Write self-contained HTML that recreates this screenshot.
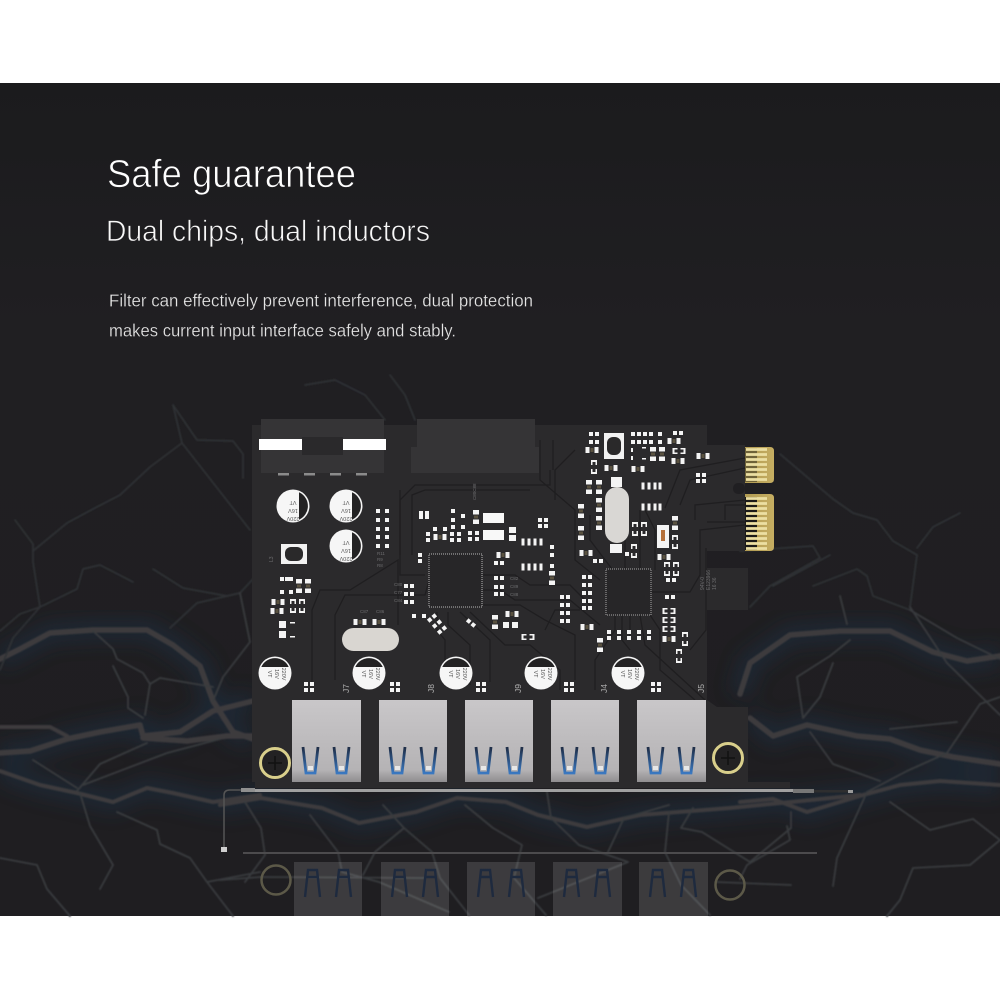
<!DOCTYPE html>
<html lang="en"><head><meta charset="utf-8"><title>Safe guarantee</title>
<style>html,body{margin:0;padding:0;background:#fff}svg{display:block}text{font-family:"Liberation Sans",sans-serif}</style></head>
<body>
<svg xmlns="http://www.w3.org/2000/svg" width="1000" height="1000" viewBox="0 0 1000 1000">
<defs>
<linearGradient id="bg" x1="0" y1="0" x2="0" y2="1"><stop offset="0" stop-color="#1b1b1d"/><stop offset=".3" stop-color="#201f22"/><stop offset="1" stop-color="#1f1e21"/></linearGradient>
<linearGradient id="usb" x1="0" y1="0" x2="0" y2="1"><stop offset="0" stop-color="#c9c7c9"/><stop offset=".85" stop-color="#b5b3b5"/><stop offset="1" stop-color="#8f8d8f"/></linearGradient>
<linearGradient id="gold" x1="0" y1="0" x2="1" y2="0"><stop offset="0" stop-color="#b09a52"/><stop offset="1" stop-color="#c6ae62"/></linearGradient>
<linearGradient id="tab" x1="0" y1="0" x2="0" y2="1"><stop offset="0" stop-color="#1e2c44"/><stop offset="1" stop-color="#3a78c0"/></linearGradient>
<filter id="b6" x="-10%" y="-10%" width="120%" height="120%"><feGaussianBlur stdDeviation="9"/></filter>
<filter id="b1" x="-5%" y="-5%" width="110%" height="110%"><feGaussianBlur stdDeviation=".9"/></filter>
<rect id="s" x="-2" y="-2" width="4" height="4" fill="#f4f4f4"/>
<g id="d"><rect x="-5" y="-2" width="4" height="4" fill="#f4f4f4"/><rect x="1" y="-2" width="4" height="4" fill="#f4f4f4"/></g>
<g id="dv"><rect x="-2" y="-5" width="4" height="4" fill="#f4f4f4"/><rect x="-2" y="1" width="4" height="4" fill="#f4f4f4"/></g>
<g id="h"><rect x="-6.500" y="-3" width="13" height="6" fill="#f4f4f4"/><rect x="-2.500" y="-3" width="5" height="6" fill="#2b2a2b"/><rect x="-1.500" y="-2" width="3" height="4" fill="#5a5240"/></g>
<g id="v"><rect x="-3" y="-7" width="6" height="14" fill="#f4f4f4"/><rect x="-3" y="-2.500" width="6" height="5" fill="#2b2a2b"/><rect x="-2" y="-1.500" width="4" height="3" fill="#5a5240"/></g>
<path id="fh" d="M-6.500-3h5v1.500h-3v3h3v1.500h-5zM6.500-3h-5v1.500h3v3h-3v1.500h5z" fill="#f4f4f4"/>
<path id="fv" d="M-3-7v5h1.500v-3h3v3h1.500v-5zM-3 7v-5h1.500v3h3v-3h1.500v5z" fill="#f4f4f4"/>
<rect id="pin" x="-1.500" y="-3.500" width="3" height="7" fill="#f4f4f4"/>
<g id="capT"><circle r="16.500" fill="#f6f6f6"/><path d="M6-13.700A15 15 0 0 1 6 13.700Z" fill="#232223"/></g>
<g id="capB"><circle r="16.500" fill="#f6f6f6"/><path d="M-13.700-6A15 15 0 0 1 13.700-6Z" fill="#232223"/></g>
<g id="tabs"><path d="M11 47l3 26h9l3-26M13 73h11" fill="none" stroke="url(#tab)" stroke-width="2.800"/><rect x="16" y="66" width="5" height="4" fill="#e8e8e8"/><path d="M42 47l3 26h9l3-26M44 73h11" fill="none" stroke="url(#tab)" stroke-width="2.800"/><rect x="47" y="66" width="5" height="4" fill="#e8e8e8"/></g>
<g id="rtabs"><path d="M11 73l3-27h9l3 27M14 53h9M42 73l3-27h9l3 27M45 53h9" fill="none" stroke="#1e2a3e" stroke-width="2.400"/></g>
<path id="m1" d="M0 659L20 649 50 633 93 630 147 630 173 645 200 666 213 701 233 732 253 739"/>
<path id="m2" d="M0 753L30 751 67 739 100 732 140 725 143 736 180 732 213 711 253 701"/>
<path id="m3" d="M143 738L187 741 227 736 253 736"/>
<path id="m4" d="M0 771L20 778 40 785 77 793 113 802 147 788 173 793 213 802 260 795"/>
<path id="m5" d="M740 694L750 663 790 635 840 631 890 631 933 652 967 661 1000 656"/>
<path id="m6" d="M750 718L773 736 807 725 857 736 890 739 920 750 953 757 1000 764"/>
<path id="m7" d="M740 802L773 799 807 812 863 795 900 785 940 781 1000 785"/>
<path id="m8" d="M220 805L261 798 322 808 359 823 416 812 457 798 506 802 538 815 587 827 640 815 730 808 791 802 860 795"/>
</defs>

<rect width="1000" height="1000" fill="#fff"/>
<rect y="83" width="1000" height="833" fill="url(#bg)"/>

<!-- glow -->
<g fill="none" stroke="#1b3346" stroke-width="20" opacity=".5" filter="url(#b6)">
<use href="#m1"/><use href="#m2"/><use href="#m4"/><use href="#m5"/><use href="#m6"/><use href="#m7"/><use href="#m8"/>
</g>

<!-- lightning -->
<g fill="none" stroke-linecap="round" stroke-linejoin="round" filter="url(#b1)">
<g stroke="#3c3b3d" stroke-width="5.500">
<use href="#m1"/><use href="#m2"/><use href="#m3"/><use href="#m5"/><use href="#m6"/>
</g>
<g stroke="#3c3b3d" stroke-width="4">
<use href="#m4"/><use href="#m7"/><use href="#m8"/>
<path d="M0 727L50 727 67 736"/>
</g>
<g stroke="#2f3034" stroke-width="1.700">
<path d="M15 520L33 544 33 562 40 607 13 638 0 670"/>
<path d="M33 551L67 523 93 509 120 495 150 467 182 443"/>
<path d="M173 405L182 443 207 475 250 530"/>
<path d="M173 405L197 440 233 441 243 454 243 478"/>
<path d="M153 569L183 588 227 596 240 593 253 579"/>
<path d="M170 628L197 603 240 593"/>
<path d="M0 631L20 614 40 607 77 589 83 569 100 565 133 582"/>
<path d="M780 454L833 499 853 513 877 520 893 541 917 555 910 607"/>
<path d="M917 548L933 527 960 513"/>
<path d="M813 586L857 569 867 576 873 596 910 610"/>
<path d="M740 551L813 546 820 558 770 586 750 607"/>
<path d="M830 555L773 586"/>
<path d="M305 385L335 380 365 395 385 420M390 375L405 395 415 420"/>
</g>
<g stroke="#383a3e" stroke-width="1.800">
<path d="M93 631L113 649 117 659 143 673 150 684 145 715"/>
<path d="M113 666L128 697 128 708 143 718"/>
<path d="M150 684L160 678 213 687"/>
<path d="M240 593L250 642 223 677 213 701"/>
<path d="M80 793L90 826 113 865 100 889"/>
<path d="M117 812L157 830 160 844 190 858 207 882 233 916"/>
<path d="M0 858L37 865 47 889 70 916"/>
<path d="M207 882L260 872"/>
<path d="M77 791L100 764 147 743"/>
<path d="M33 760L77 788"/>
<path d="M83 785L167 753 220 739"/>
<path d="M910 607L947 663 1000 715"/>
<path d="M910 610L957 638 1000 659"/>
<path d="M840 596L847 624"/>
<path d="M850 640L830 656 797 677 803 718 820 697 833 663"/>
<path d="M890 729L957 722"/>
<path d="M1000 697L980 704 947 753 907 771 867 792 837 858 833 886"/>
<path d="M810 732L833 764 880 781"/>
<path d="M890 802L930 830 973 819 1000 840 970 865 913 868 900 900 887 916"/>
<path d="M787 826L790 840 747 865 740 879"/>
<path d="M245 802L261 828 265 855 245 882"/>
<path d="M310 815L338 852 342 872 379 882 449 912"/>
<path d="M404 828L432 852 440 878 469 915"/>
<path d="M465 805L493 828 522 845 514 878 546 915"/>
<path d="M547 792L551 818 579 845 628 862 538 898"/>
<path d="M669 812L665 852 681 885 710 915"/>
<path d="M693 808L681 828 702 832 750 862 791 828 791 812"/>
<path d="M220 880L261 877 424 878"/>
<path d="M716 882L791 885"/>
<path d="M383 805L404 828 375 852 363 875"/>
<path d="M608 852L624 818 669 805"/>
</g>
</g>

<!-- title -->
<g stroke="#201f22" paint-order="fill">
<text x="107" y="187" font-size="39" fill="#ffffff" stroke-width=".8" textLength="249" lengthAdjust="spacingAndGlyphs">Safe guarantee</text>
<text x="106" y="241" font-size="29.500" fill="#f8f8f8" stroke-width=".7" textLength="324" lengthAdjust="spacingAndGlyphs">Dual chips, dual inductors</text>
<text x="109" y="306.500" font-size="17.500" fill="#e6e6e6" stroke-width=".25" textLength="424" lengthAdjust="spacingAndGlyphs">Filter can effectively prevent interference, dual protection</text>
<text x="109" y="336.500" font-size="17.500" fill="#e6e6e6" stroke-width=".25" textLength="347" lengthAdjust="spacingAndGlyphs">makes current input interface safely and stably.</text>
</g>

<!-- reflection -->
<g>
<rect x="243" y="852" width="574" height="2" fill="#4c4b4d"/>
<g fill="#fff" opacity=".13"><rect x="294" y="862" width="68" height="54"/><rect x="381" y="862" width="68" height="54"/><rect x="467" y="862" width="68" height="54"/><rect x="553" y="862" width="69" height="54"/><rect x="639" y="862" width="69" height="54"/></g>
<use href="#rtabs" x="294" y="824"/><use href="#rtabs" x="381" y="824"/><use href="#rtabs" x="467" y="824"/><use href="#rtabs" x="553" y="824"/><use href="#rtabs" x="639" y="824"/>
<circle cx="276" cy="880" r="14.500" fill="none" stroke="#5c5948" stroke-width="2.500"/>
<circle cx="730" cy="885" r="14.500" fill="none" stroke="#5c5948" stroke-width="2.500"/>
</g>

<!-- bracket -->
<path d="M224 848V795Q224 790 230 790H241" fill="none" stroke="#555" stroke-width="1.500"/>
<rect x="221" y="847" width="6" height="5" fill="#d0d0d0"/>
<rect x="241" y="789" width="552" height="3" fill="#a0a0a0"/>
<rect x="241" y="788" width="14" height="4" fill="#8f8f8f"/>
<rect x="793" y="789" width="21" height="4" fill="#777"/>
<rect x="814" y="790" width="34" height="2.500" fill="#2e2e2f"/>
<rect x="848" y="790" width="5" height="3" fill="#9a9a9a"/>

<!-- board -->
<path d="M252 425H707V445H745V551H707V568H748V610H707V700L717 707H748V782H790V788H255V782H252Z" fill="#2b2a2c"/>

<!-- traces -->
<g fill="none" stroke="#1f1e20" stroke-width="1.300">
<path d="M398 625V560L350 590H320L312 610V685"/>
<path d="M335 680V615L345 595H425L432 570"/>
<path d="M437 612V630L445 640V682M448 612V625L470 645V685M460 612L490 640V682"/>
<path d="M470 612L505 645H530L560 670V690"/>
<path d="M400 555V500L415 485H550V470M412 555V495L425 490H530"/>
<path d="M425 575H400V490"/>
<path d="M483 575H515L530 585H570L590 605M483 590H500L515 600H570L600 625"/>
<path d="M483 605H520L545 620L575 635V680"/>
<path d="M540 440V480L575 510V560L600 580"/>
<path d="M555 500V470L575 450M553 440V470"/>
<path d="M590 515V540L612 569M625 515V569M640 510L640 569M645 510L655 530V570"/>
<path d="M622 615V640L630 650M615 615V630L595 660V690M630 615V640M640 615L645 645L705 700M650 615L660 630V670L695 700"/>
<path d="M651 592H690L700 575V530L745 525"/>
<path d="M680 505L690 480L745 468M665 508L680 470L745 458M695 520V505L745 500"/>
<path d="M707 522H745M725 520V505H745"/>
<path d="M706 548V630L690 650"/>
<path d="M580 610H555L545 630"/>
</g>

<!-- connectors -->
<rect x="261" y="419" width="123" height="54" fill="#353436"/>
<rect x="259" y="439" width="43" height="11" fill="#fff"/>
<rect x="343" y="439" width="43" height="11" fill="#fff"/>
<rect x="302" y="437" width="41" height="18" fill="#2a292b"/>
<g fill="#8b8b8b"><rect x="278" y="473" width="11" height="2.500"/><rect x="304" y="473" width="11" height="2.500"/><rect x="330" y="473" width="11" height="2.500"/><rect x="356" y="473" width="11" height="2.500"/></g>
<path d="M417 419H535V447H539V473H411V447H417Z" fill="#353436"/>

<!-- caps -->
<use href="#capT" x="293" y="506"/><use href="#capT" x="346" y="506"/><use href="#capT" x="346" y="546"/>
<use href="#capB" x="275" y="673"/><use href="#capB" x="369" y="673"/><use href="#capB" x="456" y="673"/><use href="#capB" x="541" y="673"/><use href="#capB" x="628" y="673"/>
<g font-size="5.500" fill="#555" text-anchor="middle">
<text transform="translate(293,509) rotate(180)">16V</text><text transform="translate(293,517) rotate(180)">220V</text><text transform="translate(293,501) rotate(180)">VT</text>
<text transform="translate(346,509) rotate(180)">16V</text><text transform="translate(346,517) rotate(180)">220V</text><text transform="translate(346,501) rotate(180)">VT</text>
<text transform="translate(346,549) rotate(180)">16V</text><text transform="translate(346,557) rotate(180)">220V</text><text transform="translate(346,541) rotate(180)">VT</text>
<text transform="translate(268,674) rotate(90)">VT</text><text transform="translate(275,674) rotate(90)">16V</text><text transform="translate(282,674) rotate(90)">220V</text>
<text transform="translate(362,674) rotate(90)">VT</text><text transform="translate(369,674) rotate(90)">16V</text><text transform="translate(376,674) rotate(90)">220V</text>
<text transform="translate(449,674) rotate(90)">VT</text><text transform="translate(456,674) rotate(90)">16V</text><text transform="translate(463,674) rotate(90)">220V</text>
<text transform="translate(534,674) rotate(90)">VT</text><text transform="translate(541,674) rotate(90)">16V</text><text transform="translate(548,674) rotate(90)">220V</text>
<text transform="translate(621,674) rotate(90)">VT</text><text transform="translate(628,674) rotate(90)">16V</text><text transform="translate(635,674) rotate(90)">220V</text>
</g>

<!-- inductors -->
<rect x="281" y="544" width="26" height="20" fill="#f2f2f2"/><rect x="285" y="547" width="18" height="14" rx="6" fill="#2a292a"/>
<rect x="604" y="433" width="20" height="26" fill="#f2f2f2"/><rect x="607" y="437" width="14" height="18" rx="6" fill="#2a292a"/>

<!-- chips -->
<rect x="429" y="554" width="53" height="53" fill="#272628" stroke="#b8b8b8" stroke-width="1" stroke-dasharray="1 1"/>
<rect x="606" y="569" width="45" height="46" fill="#272628" stroke="#a8a8a8" stroke-width="1" stroke-dasharray="1 1"/>

<!-- crystals -->
<rect x="342" y="628" width="57" height="23" rx="11.500" fill="#d9d6d1"/>
<rect x="605" y="487" width="24" height="56" rx="12" fill="#d9d7d4"/>
<rect x="611" y="477" width="11" height="10" fill="#f4f4f4"/><rect x="610" y="544" width="12" height="9" fill="#f4f4f4"/>

<!-- large white smd -->
<rect x="483" y="513" width="21" height="10" fill="#f8f8f8"/><rect x="483" y="530" width="21" height="10" fill="#f8f8f8"/>
<rect x="509" y="527" width="7" height="6" fill="#f4f4f4"/><rect x="509" y="535" width="7" height="6" fill="#f4f4f4"/>
<rect x="279" y="621" width="7" height="7" fill="#f4f4f4"/><rect x="279" y="631" width="7" height="7" fill="#f4f4f4"/>
<rect x="290" y="622" width="5" height="1.500" fill="#f4f4f4"/><rect x="290" y="636" width="5" height="1.500" fill="#f4f4f4"/>
<rect x="503" y="622" width="6" height="6" fill="#f4f4f4"/><rect x="512" y="622" width="6" height="6" fill="#f4f4f4"/>
<!-- orange part -->
<rect x="657" y="525" width="12" height="23" fill="#f4f4f4"/><rect x="661" y="530" width="4" height="11" fill="#b5703a"/>

<!-- small parts -->
<g>
<use href="#s" x="378" y="511"/><use href="#s" x="387" y="511"/><use href="#s" x="378" y="520"/><use href="#s" x="387" y="520"/><use href="#s" x="378" y="529"/><use href="#s" x="387" y="529"/><use href="#s" x="378" y="537"/><use href="#s" x="387" y="537"/><use href="#s" x="378" y="546"/><use href="#s" x="387" y="546"/>
<use href="#h" x="360" y="622"/><use href="#h" x="379" y="622"/><use href="#h" x="440" y="537"/><use href="#h" x="503" y="555"/><use href="#h" x="278" y="602"/><use href="#h" x="277" y="611"/><use href="#h" x="512" y="614"/>
<use href="#v" x="299" y="586"/><use href="#v" x="308" y="586"/><use href="#v" x="476" y="517"/><use href="#v" x="495" y="622"/>
<use href="#fv" x="293" y="606"/><use href="#fv" x="302" y="606"/>
<use href="#d" x="409" y="586"/><use href="#d" x="409" y="594"/><use href="#d" x="409" y="602"/><use href="#d" x="499" y="563"/><use href="#d" x="499" y="578"/><use href="#d" x="499" y="587"/><use href="#d" x="499" y="594"/>
<use href="#s" x="282" y="579"/><use href="#s" x="287" y="579"/><use href="#s" x="291" y="579"/><use href="#s" x="282" y="592"/><use href="#s" x="291" y="592"/>
<use href="#s" x="453" y="511"/><use href="#s" x="453" y="520"/><use href="#s" x="463" y="516"/><use href="#s" x="463" y="527"/><use href="#s" x="453" y="527"/><use href="#s" x="445" y="529"/><use href="#s" x="435" y="529"/>
<use href="#dv" x="428" y="537"/><use href="#dv" x="452" y="537"/><use href="#dv" x="459" y="537"/><use href="#dv" x="470" y="536"/><use href="#dv" x="477" y="536"/>
<use href="#d" x="424" y="513"/><use href="#d" x="424" y="517"/><use href="#dv" x="420" y="558"/>
<use href="#s" x="414" y="616"/><use href="#s" x="424" y="616"/>
<g transform="translate(432,618) rotate(-40)"><use href="#d"/></g><g transform="translate(437,624) rotate(-40)"><use href="#d"/></g><g transform="translate(442,630) rotate(-40)"><use href="#d"/></g><g transform="translate(471,623) rotate(40)"><use href="#d"/></g>
<use href="#pin" x="523" y="542"/><use href="#pin" x="529" y="542"/><use href="#pin" x="535" y="542"/><use href="#pin" x="523" y="567"/><use href="#pin" x="529" y="567"/><use href="#pin" x="535" y="567"/><use href="#pin" x="541" y="567"/><use href="#pin" x="541" y="542"/>
<use href="#fh" x="528" y="637"/>
<use href="#d" x="309" y="684"/><use href="#d" x="309" y="690"/><use href="#d" x="395" y="684"/><use href="#d" x="395" y="690"/><use href="#d" x="481" y="684"/><use href="#d" x="481" y="690"/><use href="#d" x="569" y="684"/><use href="#d" x="569" y="690"/><use href="#d" x="656" y="684"/><use href="#d" x="656" y="690"/>

<use href="#d" x="594" y="434"/><use href="#d" x="594" y="442"/><use href="#h" x="592" y="450"/><use href="#fv" x="594" y="467"/><use href="#h" x="611" y="468"/><use href="#h" x="638" y="469"/>
<use href="#v" x="589" y="487"/><use href="#v" x="599" y="487"/><use href="#v" x="599" y="505"/><use href="#v" x="599" y="523"/><use href="#v" x="581" y="511"/><use href="#v" x="581" y="533"/>
<use href="#d" x="636" y="434"/><use href="#d" x="636" y="442"/><use href="#d" x="648" y="434"/><use href="#d" x="648" y="442"/><use href="#s" x="660" y="434"/><use href="#s" x="660" y="442"/>
<use href="#v" x="653" y="454"/><use href="#v" x="662" y="454"/><use href="#h" x="674" y="441"/><use href="#fh" x="679" y="451"/><use href="#h" x="678" y="461"/><use href="#h" x="703" y="456"/><use href="#d" x="678" y="433"/>
<rect x="631" y="448" width="2" height="4" fill="#f4f4f4"/><rect x="631" y="456" width="2" height="4" fill="#f4f4f4"/><rect x="642" y="447" width="4" height="1.500" fill="#f4f4f4"/><rect x="642" y="458" width="4" height="1.500" fill="#f4f4f4"/>
<use href="#pin" x="643" y="486"/><use href="#pin" x="649" y="486"/><use href="#pin" x="655" y="486"/><use href="#pin" x="660" y="486"/><use href="#pin" x="643" y="507"/><use href="#pin" x="649" y="507"/><use href="#pin" x="655" y="507"/><use href="#pin" x="660" y="507"/>
<use href="#fv" x="635" y="529"/><use href="#fv" x="644" y="529"/><use href="#fv" x="634" y="551"/><use href="#s" x="627" y="554"/>
<use href="#v" x="675" y="523"/><use href="#fv" x="675" y="542"/><use href="#h" x="664" y="557"/><use href="#fv" x="667" y="569"/><use href="#fv" x="676" y="569"/><use href="#d" x="671" y="580"/><use href="#d" x="670" y="597"/>
<use href="#fh" x="669" y="611"/><use href="#fh" x="669" y="620"/><use href="#fh" x="669" y="629"/><use href="#h" x="669" y="639"/><use href="#fv" x="685" y="639"/><use href="#fv" x="679" y="656"/>
<use href="#v" x="600" y="645"/><use href="#h" x="587" y="627"/><use href="#h" x="586" y="553"/><use href="#d" x="598" y="561"/><use href="#v" x="552" y="578"/><use href="#s" x="552" y="547"/><use href="#s" x="552" y="555"/><use href="#s" x="552" y="566"/><use href="#d" x="543" y="520"/><use href="#d" x="543" y="526"/>
<use href="#d" x="587" y="577"/><use href="#d" x="587" y="585"/><use href="#d" x="587" y="593"/><use href="#d" x="587" y="601"/><use href="#d" x="587" y="608"/>
<use href="#d" x="565" y="597"/><use href="#d" x="565" y="605"/><use href="#d" x="565" y="613"/><use href="#d" x="565" y="621"/>
<use href="#dv" x="609" y="635"/><use href="#dv" x="619" y="635"/><use href="#dv" x="629" y="635"/><use href="#dv" x="639" y="635"/><use href="#dv" x="649" y="635"/>
<use href="#d" x="701" y="475"/><use href="#d" x="701" y="481"/>
</g>

<!-- gold fingers -->
<path d="M745 447H770Q774 447 774 451V479Q774 483 770 483H745Z" fill="url(#gold)"/>
<path d="M745 494H770Q774 494 774 498V547Q774 551 770 551H745Z" fill="url(#gold)"/>
<rect x="745" y="448" width="12" height="34" fill="#6e6238"/>
<rect x="745" y="497" width="12" height="53" fill="#1b1a18"/>
<g stroke="#ecdfa2" stroke-width="2.800">
<path d="M746 449.500H767M746 454.500H767M746 459.500H767M746 464.500H767M746 469.500H767M746 474.500H767M746 479.500H767"/>
<path d="M746 498.500H767M746 503.500H767M746 508.500H767M746 513.500H767M746 518.500H767M746 523.500H767M746 528.500H767M746 533.500H767M746 538.500H767M746 543.500H767M746 548.500H767"/>
</g>
<rect x="733" y="483" width="12" height="11" rx="5" fill="#201f22"/>

<!-- USB ports -->
<rect x="292" y="700" width="69" height="82" fill="url(#usb)"/>
<rect x="379" y="700" width="68" height="82" fill="url(#usb)"/>
<rect x="465" y="700" width="68" height="82" fill="url(#usb)"/>
<rect x="551" y="700" width="68" height="82" fill="url(#usb)"/>
<rect x="637" y="700" width="69" height="82" fill="url(#usb)"/>
<use href="#tabs" x="292" y="700"/><use href="#tabs" x="379" y="700"/><use href="#tabs" x="465" y="700"/><use href="#tabs" x="551" y="700"/><use href="#tabs" x="637" y="700"/>

<!-- screws -->
<g fill="#232223" stroke="#d9cf8b" stroke-width="3"><circle cx="275" cy="763" r="14.500"/><circle cx="728" cy="758" r="14.500"/></g>
<g stroke="#111" stroke-width="1.500"><path d="M268 763h14M275 756v14M721 758h14M728 751v14"/></g>

<!-- labels -->
<g fill="#6d6d6f" font-size="5">
<text transform="translate(273,562) rotate(-90)">L3</text>
<text x="377" y="555" font-size="4.500">R11</text><text x="377" y="561" font-size="4.500">R9</text><text x="377" y="567" font-size="4.500">R8</text>
<text x="394" y="586" font-size="4.500">C80</text><text x="394" y="594" font-size="4.500">C77</text><text x="394" y="602" font-size="4.500">C84</text>
<text x="360" y="613" font-size="4.500">C87</text><text x="376" y="613" font-size="4.500">C86</text>
<text x="510" y="580" font-size="4.500">C82</text><text x="510" y="588" font-size="4.500">C89</text><text x="510" y="596" font-size="4.500">C88</text>
<text transform="translate(476,500) rotate(-90)" font-size="4.500">C80C88</text>
<text transform="translate(710,590) rotate(-90)" font-size="5">E123966</text><text transform="translate(704,590) rotate(-90)" font-size="5">94V-0</text><text transform="translate(716,590) rotate(-90)" font-size="5">16 36</text>
</g>
<g fill="#b0b0b0" font-size="8.500">
<text transform="translate(349,693) rotate(-90)">J7</text><text transform="translate(434,693) rotate(-90)">J8</text><text transform="translate(521,693) rotate(-90)">J9</text><text transform="translate(607,693) rotate(-90)">J4</text><text transform="translate(704,693) rotate(-90)">J5</text>
</g>
</svg>
</body></html>
